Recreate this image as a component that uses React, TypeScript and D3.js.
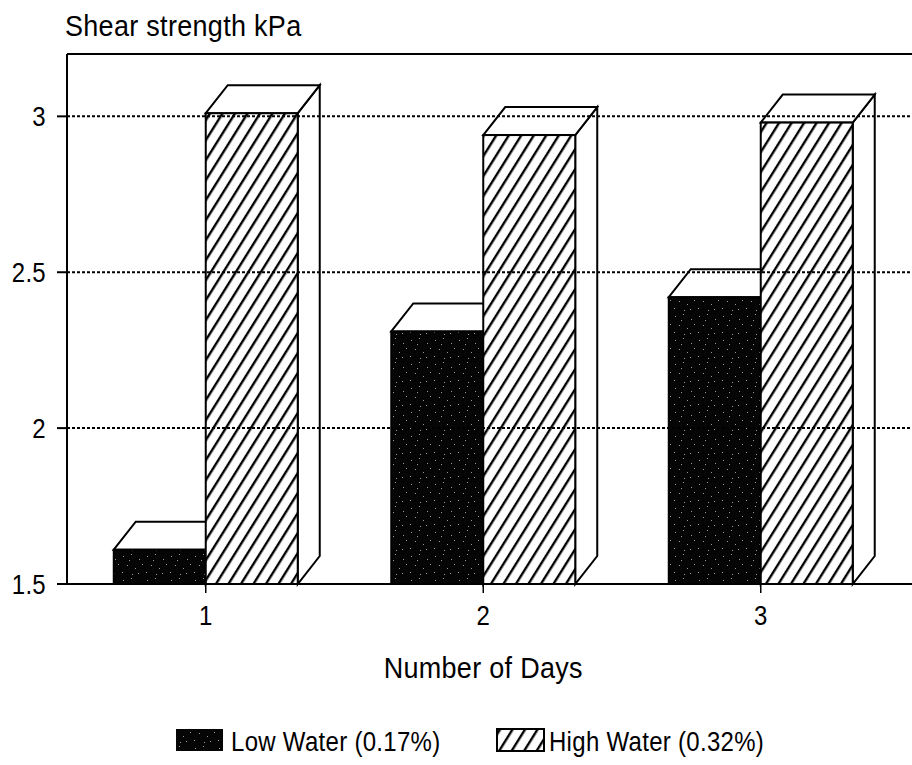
import React from "react";
import * as d3 from "d3";

// Shear strength (kPa) after each day, for two water contents
const days = ["1", "2", "3"];
const lowWater = [1.61, 2.31, 2.42];
const highWater = [3.01, 2.94, 2.98];
const yTicks = [1.5, 2, 2.5, 3];
const seriesKeys = ["low", "high"];
const seriesLabels = ["Low Water (0.17%)", "High Water (0.32%)"];

const W = 912;
const H = 765;
const left = 67;
const top = 54;
const bottom = 584;
const right = 912;
const depthX = 22;
const depthY = 28;
const FONT = "'Liberation Sans', Arial, sans-serif";
const STRETCH = 1.12;

// sparse speckles on the dark fill
const speckles = [
  [3, 4], [11, 2], [19, 7], [7, 13], [15, 16], [22, 12], [2, 20], [12, 22], [18, 21], [9, 8],
];

function Label({ x, y, size, anchor = "start", children }: any) {
  return (
    <text
      transform={`translate(${x},${y}) scale(1,${STRETCH})`}
      fontFamily={FONT}
      fontSize={size}
      textAnchor={anchor}
      letterSpacing={0.3}
      fill="#000"
    >
      {children}
    </text>
  );
}

function Bar3D({ x0, x1, yTop, yBase, fill }: any) {
  const topFace = [
    [x0, yTop],
    [x0 + depthX, yTop - depthY],
    [x1 + depthX, yTop - depthY],
    [x1, yTop],
  ];
  const sideFace = [
    [x1, yTop],
    [x1 + depthX, yTop - depthY],
    [x1 + depthX, yBase - depthY],
    [x1, yBase],
  ];
  const line = d3.line();
  return (
    <g stroke="#000" strokeWidth={2} strokeLinejoin="miter">
      <path d={line(sideFace as any) + "Z"} fill="#fff" />
      <path d={line(topFace as any) + "Z"} fill="#fff" />
      <rect x={x0} y={yTop} width={x1 - x0} height={yBase - yTop} fill={fill} />
    </g>
  );
}

export default function App() {
  const x = d3.scaleBand<string>().domain(days).range([left, left + 3 * 277.5]);
  const y = d3.scaleLinear().domain([1.5, 3.2]).range([bottom, top]);
  const pairWidth = x.bandwidth() * 0.663;
  const inner = d3.scaleBand<string>().domain(seriesKeys).range([0, pairWidth]);
  const fills: Record<string, string> = { low: "url(#stipple)", high: "url(#hatch)" };
  const values: Record<string, number[]> = { low: lowWater, high: highWater };

  return (
    <svg
      width={W}
      height={H}
      style={{ position: "absolute", left: 0, top: 0, background: "#fff" }}
    >
      <defs>
        <pattern id="stipple" patternUnits="userSpaceOnUse" width={24} height={24}>
          <rect width={24} height={24} fill="#050505" />
          {speckles.map(([sx, sy], i) => (
            <rect key={i} x={sx} y={sy} width={1} height={1} fill="#9a9a9a" />
          ))}
        </pattern>
        <pattern
          id="hatch"
          patternUnits="userSpaceOnUse"
          width={10.6}
          height={20}
          patternTransform="rotate(32)"
        >
          <rect width={10.6} height={20} fill="#fff" />
          <line x1={5} y1={0} x2={5} y2={20} stroke="#000" strokeWidth={2.4} />
        </pattern>
      </defs>

      <rect width={W} height={H} fill="#fff" />

      {/* bars */}
      {days.map((d, i) => {
        const gx = (x(d) as number) + x.bandwidth() / 2 - pairWidth / 2;
        return (
          <g key={d}>
            {seriesKeys.map((k) => {
              const x0 = gx + (inner(k) as number);
              return (
                <Bar3D
                  key={k}
                  x0={x0}
                  x1={x0 + inner.bandwidth()}
                  yTop={y(values[k][i])}
                  yBase={y(1.5)}
                  fill={fills[k]}
                />
              );
            })}
          </g>
        );
      })}

      {/* dotted gridlines */}
      {yTicks
        .filter((t) => t > 1.5)
        .map((t) => (
          <line
            key={t}
            x1={left}
            x2={right}
            y1={y(t)}
            y2={y(t)}
            stroke="#000"
            strokeWidth={2}
            strokeDasharray="3,2"
          />
        ))}

      {/* frame */}
      <line x1={left} x2={right} y1={top} y2={top} stroke="#000" strokeWidth={2} />
      <line x1={left} x2={left} y1={top} y2={bottom} stroke="#000" strokeWidth={2} />
      <line x1={left} x2={right} y1={bottom} y2={bottom} stroke="#000" strokeWidth={2} />

      {/* y axis ticks and labels */}
      {yTicks.map((t) => (
        <g key={t}>
          <line x1={left - 10} x2={left} y1={y(t)} y2={y(t)} stroke="#000" strokeWidth={2} />
          <Label x={46} y={y(t) + 9.5} size={24} anchor="end">
            {String(t)}
          </Label>
        </g>
      ))}

      {/* x axis ticks and labels */}
      {days.map((d) => {
        const cx = (x(d) as number) + x.bandwidth() / 2;
        return (
          <g key={d}>
            <line x1={cx} x2={cx} y1={bottom} y2={bottom + 9} stroke="#000" strokeWidth={1.5} />
            <Label x={cx} y={625} size={24} anchor="middle">
              {d}
            </Label>
          </g>
        );
      })}

      <Label x={65} y={36} size={27}>
        Shear strength kPa
      </Label>
      <Label x={(x("2") as number) + x.bandwidth() / 2} y={678} size={27} anchor="middle">
        Number of Days
      </Label>

      {/* legend */}
      <rect x={176} y={729} width={47} height={22} fill="url(#stipple)" />
      <Label x={231} y={751} size={24}>
        {seriesLabels[0]}
      </Label>
      <rect x={497} y={729} width={47} height={22} fill="url(#hatch)" stroke="#000" strokeWidth={2} />
      <Label x={549} y={751} size={24}>
        {seriesLabels[1]}
      </Label>
    </svg>
  );
}
